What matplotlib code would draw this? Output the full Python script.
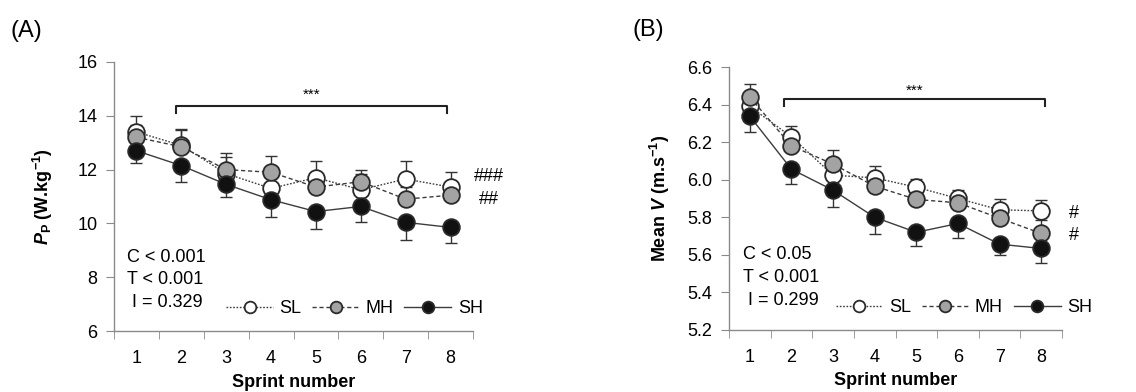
import matplotlib
matplotlib.use("Agg")
import matplotlib.pyplot as plt
import numpy as np

plt.rcParams['font.family'] = ['Liberation Sans', 'DejaVu Sans']
plt.rcParams['mathtext.fontset'] = 'custom'
plt.rcParams['mathtext.rm'] = 'Liberation Sans:bold'
plt.rcParams['mathtext.it'] = 'Liberation Sans:italic:bold'
plt.rcParams['mathtext.bf'] = 'Liberation Sans:bold'

sprints = [1, 2, 3, 4, 5, 6, 7, 8]
series_names = ["SL", "MH", "SH"]

# Panel A: peak power (W.kg-1)
pp_SL = [13.4, 12.9, 11.85, 11.3, 11.7, 11.25, 11.65, 11.35]
pp_MH = [13.2, 12.85, 12.0, 11.9, 11.35, 11.55, 10.9, 11.05]
pp_SH = [12.7, 12.15, 11.45, 10.88, 10.44, 10.63, 10.04, 9.85]
pp_SL_err = [0.6, 0.6, 0.6, 0.6, 0.62, 0.6, 0.67, 0.55]
pp_MH_err = [0.45, 0.62, 0.6, 0.6, 0.45, 0.44, 0.45, 0.45]
pp_SH_err = [0.45, 0.6, 0.46, 0.66, 0.64, 0.58, 0.64, 0.58]

# Panel B: mean velocity (m.s-1)
v_SL = [6.39, 6.228, 6.024, 6.01, 5.96, 5.90, 5.84, 5.834]
v_MH = [6.44, 6.18, 6.083, 5.965, 5.895, 5.877, 5.795, 5.714]
v_SH = [6.338, 6.056, 5.944, 5.80, 5.72, 5.767, 5.657, 5.634]
v_SL_err = [0.06, 0.058, 0.06, 0.065, 0.045, 0.045, 0.055, 0.06]
v_MH_err = [0.07, 0.06, 0.075, 0.05, 0.04, 0.06, 0.04, 0.07]
v_SH_err = [0.085, 0.08, 0.09, 0.09, 0.075, 0.075, 0.06, 0.08]

stats_A = "C < 0.001\nT < 0.001\n I = 0.329"
stats_B = "C < 0.05\nT < 0.001\n I = 0.299"
hash_A = ["###", "##"]
hash_A_y = [11.75, 10.88]
hash_B = ["#", "#"]
hash_B_y = [5.82, 5.705]

line_col = '#3c3c3c'
styles = {
    "SL": dict(ls=(0, (1.2, 1.2)), mfc='white'),
    "MH": dict(ls=(0, (3, 2)), mfc='#a3a3a3'),
    "SH": dict(ls='-', mfc='#111111'),
}

fig = plt.figure(figsize=(11.36, 3.92), dpi=100)
axA = fig.add_axes([114/1136, (392-331)/392, 359/1136, 269/392])
axB = fig.add_axes([729/1136, (392-330)/392, 333/1136, 263/392])

def draw(ax, data, errs, ylim, yticks, fmt, ylabel, stats, hashes, hash_y, hash_x,
         bracket, star_y, ylab_x, stats_xy, leg_xy):
    x = np.array(sprints)
    handles = []
    for name in series_names:
        y = np.array(data[name])
        e = np.array(errs[name])
        if name == "SH":
            yerr = [e, np.zeros_like(e)]
        else:
            yerr = [np.zeros_like(e), e]
        ax.errorbar(x, y, yerr=yerr, fmt='none', ecolor='#333333', elinewidth=1.0,
                    capsize=4, capthick=1.0, zorder=2)
        st = styles[name]
        h, = ax.plot(x, y, color=line_col, lw=1.0, ls=st['ls'], marker='o', ms=12,
                     mfc=st['mfc'], mec='#2a2a2a', mew=1.3, zorder=3, label=name)
        handles.append(h)
    ax.set_xlim(0.5, 8.5)
    ax.set_ylim(*ylim)
    ax.set_yticks(yticks)
    ax.set_yticklabels([fmt.format(t) for t in yticks])
    ax.set_xticks(x)
    ax.set_xticks(np.arange(0.5, 9.0, 1.0), minor=True)
    ax.tick_params(axis='x', which='major', length=0, pad=14, labelsize=13)
    ax.tick_params(axis='x', which='minor', length=6, direction='out', color='#8a8a8a')
    ax.tick_params(axis='y', length=6, direction='out', color='#8a8a8a', pad=6, labelsize=13)
    for s in ['top', 'right']:
        ax.spines[s].set_visible(False)
    for s in ['left', 'bottom']:
        ax.spines[s].set_color('#8a8a8a')
        ax.spines[s].set_linewidth(1.0)
    ax.set_ylabel(ylabel, fontsize=13, fontweight='bold')
    ax.yaxis.set_label_coords(ylab_x, 0.5)
    ax.set_xlabel("Sprint number", fontsize=13, fontweight='bold')
    ax.xaxis.set_label_coords(0.5, -0.16)
    # bracket
    bx0, bx1, by, bdrop = bracket
    ax.plot([bx0, bx0, bx1, bx1], [by - bdrop, by, by, by - bdrop], color='#222222',
            lw=1.5, clip_on=False, zorder=4)
    ax.text((bx0 + bx1) / 2, star_y, "***", ha='center', va='center', fontsize=11)
    ax.text(stats_xy[0], stats_xy[1], stats, ha='left', va='center', fontsize=13,
            linespacing=1.45, transform=ax.transAxes)
    for hs, hy, hx in zip(hashes, hash_y, hash_x):
        ax.text(hx, hy, hs, ha='left', va='center', fontsize=13, clip_on=False)
    ax.legend(handles=handles, loc='center', bbox_to_anchor=leg_xy, ncol=3,
              frameon=False, fontsize=13, handlelength=2.6, handletextpad=0.35,
              columnspacing=0.6, markerscale=0.7, borderpad=0.2)
    return ax

draw(axA, {"SL": pp_SL, "MH": pp_MH, "SH": pp_SH},
     {"SL": pp_SL_err, "MH": pp_MH_err, "SH": pp_SH_err},
     (6, 16), [6, 8, 10, 12, 14, 16], "{:.0f}",
     r"$P_{\mathrm{P}}$ (W.kg$^{\mathrm{-1}}$)", stats_A, hash_A, hash_A_y, [8.52, 8.63],
     (1.88, 7.93, 14.36, 0.27), 14.77, -0.165,
     (0.036, 0.19), (0.67, 0.082))

draw(axB, {"SL": v_SL, "MH": v_MH, "SH": v_SH},
     {"SL": v_SL_err, "MH": v_MH_err, "SH": v_SH_err},
     (5.2, 6.6), [5.2, 5.4, 5.6, 5.8, 6.0, 6.2, 6.4, 6.6], "{:.1f}",
     r"Mean $V$ (m.s$^{\mathrm{-1}}$)", stats_B, hash_B, hash_B_y, [8.66, 8.66],
     (1.83, 8.08, 6.432, 0.04), 6.476, -0.17,
     (0.042, 0.2), (0.705, 0.085))

fig.text(10/1136, 1 - 31/392, "(A)", fontsize=17, ha='left', va='center')
fig.text(632/1136, 1 - 30/392, "(B)", fontsize=17, ha='left', va='center')

fig.savefig("out.png", dpi=100)
